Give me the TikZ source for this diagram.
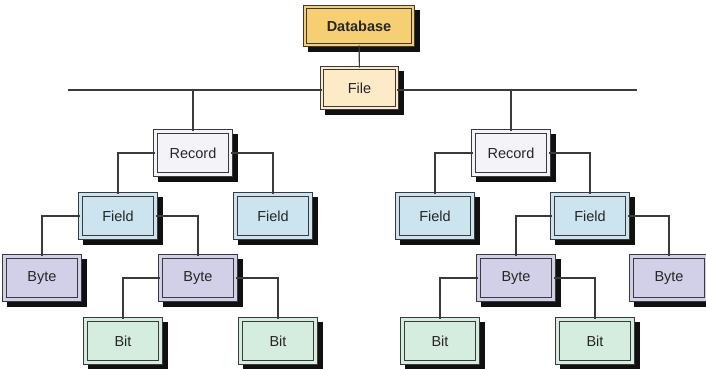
\documentclass[tikz,border=0pt]{standalone}
\usepackage{fontspec}
\setmainfont{Liberation Sans}
\definecolor{dbcolor}{HTML}{F5CF72}
\definecolor{filecolor}{HTML}{FDEBC8}
\definecolor{recordcolor}{HTML}{F4F4F8}
\definecolor{fieldcolor}{HTML}{CCE4EF}
\definecolor{bytecolor}{HTML}{D2D0E8}
\definecolor{bitcolor}{HTML}{D5EDDF}
\definecolor{linegray}{HTML}{3A3A3A}
\definecolor{shadowcolor}{HTML}{101010}

\begin{document}
\begin{tikzpicture}[x=1pt,y=-1pt,
		unit/.style={fill=#1,double=#1,draw=linegray,line width=0.9pt,double distance=2.4pt,
			minimum width=75pt,minimum height=43pt,inner sep=0pt,text=black!85,
			font=\fontsize{14.5}{16}\selectfont},
		shade box/.style={fill=shadowcolor,draw=shadowcolor,line width=4.2pt,minimum width=75pt,minimum height=43pt,inner sep=0pt},
		link/.style={draw=linegray,line width=1.1pt}]
	\useasboundingbox (0,0) rectangle (706,369);
	\node[shade box,minimum width=108pt,minimum height=38pt] (dbS) at (364,31) {};
	\node[unit=dbcolor,minimum width=108pt,minimum height=38pt,font=\fontsize{14.5}{16}\selectfont\bfseries] (db) at (359,26) {Database};
	\node[shade box,minimum height=40pt] (fileS) at (364.5,93) {};
	\node[unit=filecolor,minimum height=40pt] (file) at (359.5,88) {File};
	\coordinate (lineL) at (68,90);
	\coordinate (lineR) at (637,90);
	\foreach \x/\y in {193/153,511/153,118/216,273/216,435/216,590/216,42/278,198/278,516/278,669/278,123/341,278/341,440/341,595/341}
		\node[shade box] at (\x+5,\y+5) {};
	\node[unit=recordcolor] (recL) at (193,153) {Record};
	\node[unit=recordcolor] (recR) at (511,153) {Record};
	\node[unit=fieldcolor] (fldL1) at (118,216) {Field};
	\node[unit=fieldcolor] (fldL2) at (273,216) {Field};
	\node[unit=fieldcolor] (fldR1) at (435,216) {Field};
	\node[unit=fieldcolor] (fldR2) at (590,216) {Field};
	\node[unit=bytecolor] (byteL1) at (42,278) {Byte};
	\node[unit=bytecolor] (byteL2) at (198,278) {Byte};
	\node[unit=bytecolor] (byteR1) at (516,278) {Byte};
	\node[unit=bytecolor] (byteR2) at (669,278) {Byte};
	\node[unit=bitcolor] (bitL1) at (123,341) {Bit};
	\node[unit=bitcolor] (bitL2) at (278,341) {Bit};
	\node[unit=bitcolor] (bitR1) at (440,341) {Bit};
	\node[unit=bitcolor] (bitR2) at (595,341) {Bit};
	\draw[link] (db) -- (file);
	\draw[link] (lineL) -- (lineL -| file.west);
	\draw[link] (lineR -| file.east) -- (lineR);
	\draw[link] (recL.north) -- (recL.north |- lineL);
	\draw[link] (recR.north) -- (recR.north |- lineR);
	\draw[link] (recL.west) -| (fldL1.north);
	\draw[link] (recL.east) -| (fldL2.north);
	\draw[link] (recR.west) -| (fldR1.north);
	\draw[link] (recR.east) -| (fldR2.north);
	\draw[link] (fldL1.west) -| (byteL1.north);
	\draw[link] (fldL1.east) -| (byteL2.north);
	\draw[link] (fldR2.west) -| (byteR1.north);
	\draw[link] (fldR2.east) -| (byteR2.north);
	\draw[link] (byteL2.west) -| (bitL1.north);
	\draw[link] (byteL2.east) -| (bitL2.north);
	\draw[link] (byteR1.west) -| (bitR1.north);
	\draw[link] (byteR1.east) -| (bitR2.north);
\end{tikzpicture}
\end{document}
